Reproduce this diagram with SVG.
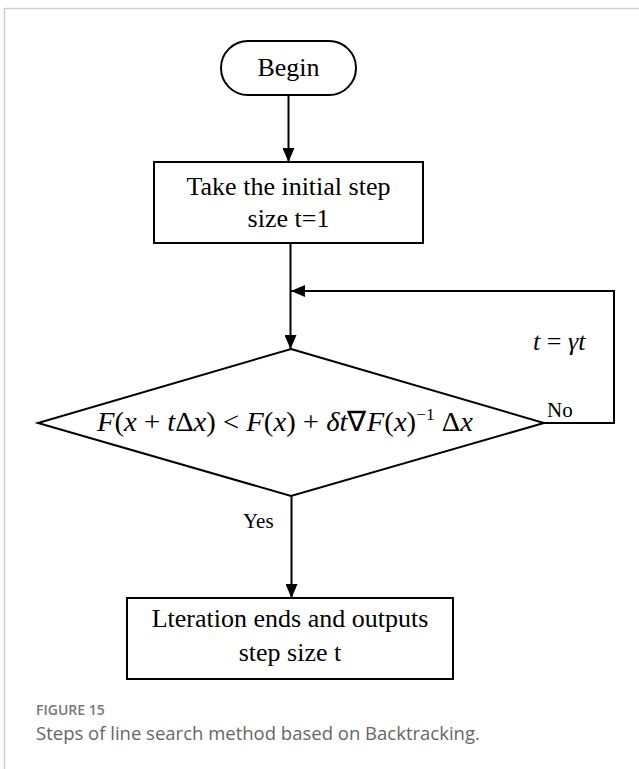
<svg xmlns="http://www.w3.org/2000/svg" width="639" height="769" viewBox="0 0 639 769">
<style>
.shape{fill:#fff;stroke:#000;stroke-width:2}
.conn{fill:none;stroke:#000;stroke-width:2}
.t{font-family:"Liberation Serif","Times New Roman",serif;fill:#000}
.i{font-style:italic}
.cap{font-family:"Open Sans","Liberation Sans",sans-serif}
</style>
<defs>
<marker id="arr" viewBox="0 0 14 12" refX="14" refY="6" markerWidth="14" markerHeight="12" markerUnits="userSpaceOnUse" orient="auto">
<path d="M0,0 L14,6 L0,12 Z" fill="#000"/>
</marker>
</defs>
<rect x="4.5" y="8.5" width="700" height="800" fill="#fff" stroke="#cfcfcf" stroke-width="1.5"/>
<g id="connectors">
<line class="conn" x1="288.5" y1="95" x2="288.5" y2="162" marker-end="url(#arr)"/>
<line class="conn" x1="290.5" y1="243" x2="290.5" y2="349" marker-end="url(#arr)"/>
<polyline class="conn" points="544,423 614,423 614,291 291,291" marker-end="url(#arr)"/>
<line class="conn" x1="291.5" y1="496" x2="291.5" y2="598" marker-end="url(#arr)"/>
<text class="t" x="547" y="417" font-size="21">No</text>
<text class="t" x="243" y="528" font-size="21">Yes</text>
<text class="t" x="533" y="350" font-size="26"><tspan class="i">t</tspan> = <tspan class="i">γt</tspan></text>
</g>
<g id="begin">
<rect class="shape" x="221" y="41" width="135" height="54" rx="27"/>
<text class="t" x="288.5" y="76" font-size="26" text-anchor="middle">Begin</text>
</g>
<g id="init">
<rect class="shape" x="154" y="162" width="269" height="81"/>
<text class="t" x="288.5" y="195" font-size="26" text-anchor="middle">Take the initial step</text>
<text class="t" x="288.5" y="227" font-size="26" text-anchor="middle">size t=1</text>
</g>
<g id="cond">
<polygon class="shape" points="291,349 544,423 291,496 38,423"/>
<text class="t" x="97" y="431" font-size="28" textLength="376" lengthAdjust="spacingAndGlyphs" xml:space="preserve"><tspan class="i">F</tspan>(<tspan class="i">x</tspan> + <tspan class="i">t</tspan>Δ<tspan class="i">x</tspan>) &lt; <tspan class="i">F</tspan>(<tspan class="i">x</tspan>) + <tspan class="i">δt</tspan>∇<tspan class="i">F</tspan>(<tspan class="i">x</tspan>)<tspan dy="-11" font-size="17">−1</tspan><tspan dy="11"> Δ</tspan><tspan class="i">x</tspan></text>
</g>
<g id="end">
<rect class="shape" x="127" y="598" width="326" height="81"/>
<text class="t" x="290" y="627" font-size="26" text-anchor="middle">Lteration ends and outputs</text>
<text class="t" x="290" y="661" font-size="26" text-anchor="middle">step size t</text>
</g>
<g id="caption">
<text class="cap" x="36" y="715" font-size="14" font-weight="600" fill="#777">FIGURE 15</text>
<text class="cap" x="36" y="740" font-size="18.5" fill="#666">Steps of line search method based on Backtracking.</text>
</g>
</svg>
